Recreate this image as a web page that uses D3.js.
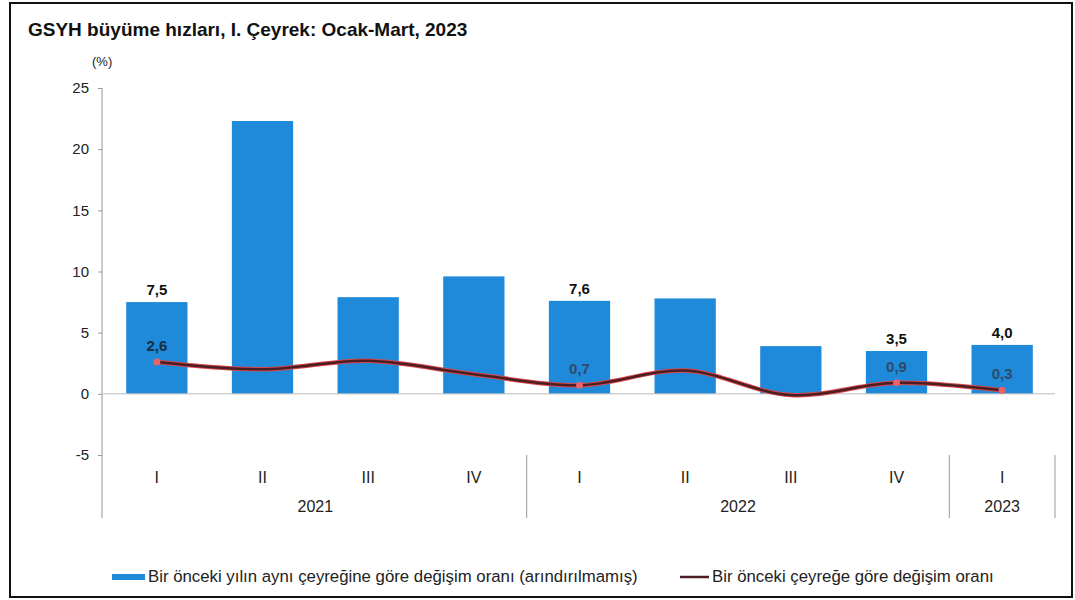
<!DOCTYPE html>
<html><head><meta charset="utf-8">
<script src="https://cdn.jsdelivr.net/npm/d3@7"></script>
<style>body{margin:0;background:#fff}svg{display:block;font-family:"Liberation Sans",Arial,sans-serif}</style>
</head><body>
<svg id="c" width="1075" height="600"></svg>
<script>
const quarters = ["I","II","III","IV","I","II","III","IV","I"];
const years = [{label:"2021",start:0,end:4},{label:"2022",start:4,end:8},{label:"2023",start:8,end:9}];
const annual = [7.5,22.3,7.9,9.6,7.6,7.8,3.9,3.5,4.0];
const quarterly = [2.6,2.0,2.7,1.6,0.7,1.9,-0.1,0.9,0.3];
const annualLabels = ["7,5","","","","7,6","","","3,5","4,0"];
const quarterlyLabels = ["2,6","","","","0,7","","","0,9","0,3"];
const yTicks = [-5,0,5,10,15,20,25];

(function(){
const svg = d3.select("#c");
const axX = 102, pL = 104, pR = 1055, pT = 88, pB = 455;
const idx = d3.range(quarters.length);
const x = d3.scaleBand().domain(idx).range([pL,pR]).paddingInner(0.42).paddingOuter(0.21);
const xc = i => x(i) + x.bandwidth()/2;
const y = d3.scaleLinear().domain([-5,25]).range([pB,pT]);

svg.append("rect").attr("x",10).attr("y",3).attr("width",1062).attr("height",594)
  .attr("fill","none").attr("stroke","#111").attr("stroke-width",2);

svg.append("text").attr("x",28).attr("y",36).attr("font-size",19).attr("font-weight","bold")
  .attr("fill","#111").text("GSYH büyüme hızları, I. Çeyrek: Ocak-Mart, 2023");
svg.append("text").attr("x",92).attr("y",66).attr("font-size",13).attr("fill","#222").text("(%)");

const ya = svg.append("g").attr("transform",`translate(${axX},0)`)
  .call(d3.axisLeft(y).tickValues(yTicks).tickSize(4).tickPadding(9).tickFormat(d=>d));
ya.select(".domain").remove();
ya.selectAll("line").attr("stroke","#999");
ya.selectAll("text").attr("font-size",15).attr("fill","#222");
svg.append("line").attr("x1",axX).attr("x2",axX).attr("y1",pT).attr("y2",518).attr("stroke","#999");

svg.append("g").selectAll("rect").data(idx).join("rect")
  .attr("x",i=>x(i)).attr("width",x.bandwidth())
  .attr("y",i=>y(Math.max(0,annual[i]))).attr("height",i=>Math.abs(y(annual[i])-y(0)))
  .attr("fill","#1e8ad9");

svg.append("line").attr("x1",axX).attr("x2",pR).attr("y1",y(0)).attr("y2",y(0)).attr("stroke","#bbb");

const step = x.step();
svg.append("g").selectAll("text").data(idx).join("text")
  .attr("x",i=>xc(i)).attr("y",483).attr("text-anchor","middle").attr("font-size",16).attr("fill","#222")
  .text(i=>quarters[i]);
svg.append("g").selectAll("line").data(years.slice(1).map(d=>d.start).concat([quarters.length])).join("line")
  .attr("x1",i=>pL+i*step).attr("x2",i=>pL+i*step).attr("y1",pB).attr("y2",518).attr("stroke","#999");
svg.append("g").selectAll("text").data(years).join("text")
  .attr("x",d=>pL+(d.start+d.end)/2*step).attr("y",512).attr("text-anchor","middle")
  .attr("font-size",16).attr("fill","#222").text(d=>d.label);

const line = d3.line().x(i=>xc(i)).y(i=>y(quarterly[i])).curve(d3.curveCatmullRom.alpha(0.5));
svg.append("path").attr("d",line(idx)).attr("fill","none").attr("stroke","#d9464a").attr("stroke-width",4.5);
svg.append("path").attr("d",line(idx)).attr("fill","none").attr("stroke","#4a1e22").attr("stroke-width",2.5);
svg.append("g").selectAll("circle").data(idx.filter(i=>quarterlyLabels[i])).join("circle")
  .attr("cx",i=>xc(i)).attr("cy",i=>y(quarterly[i])).attr("r",3.5).attr("fill","#e8636a");

svg.append("g").selectAll("text").data(idx.filter(i=>annualLabels[i])).join("text")
  .attr("x",i=>xc(i)).attr("y",i=>y(annual[i])-7).attr("text-anchor","middle")
  .attr("font-size",15).attr("font-weight","bold").attr("fill","#111").text(i=>annualLabels[i]);
svg.append("g").selectAll("text").data(idx.filter(i=>quarterlyLabels[i])).join("text")
  .attr("x",i=>xc(i)).attr("y",i=>y(quarterly[i])-11).attr("text-anchor","middle")
  .attr("font-size",15).attr("font-weight","bold").attr("fill",i=>i===0?"#1a2a44":"#2f4a6a").text(i=>quarterlyLabels[i]);

svg.append("rect").attr("x",112).attr("y",574).attr("width",33).attr("height",6).attr("fill","#1e8ad9");
svg.append("text").attr("x",148).attr("y",582).attr("font-size",16.8).attr("fill","#222")
  .text("Bir önceki yılın aynı çeyreğine göre değişim oranı (arındırılmamış)");
svg.append("line").attr("x1",680).attr("x2",709).attr("y1",577).attr("y2",577).attr("stroke","#4a1e22").attr("stroke-width",2.5);
svg.append("text").attr("x",712).attr("y",582).attr("font-size",16.8).attr("fill","#222")
  .text("Bir önceki çeyreğe göre değişim oranı");
})();
</script>
</body></html>
